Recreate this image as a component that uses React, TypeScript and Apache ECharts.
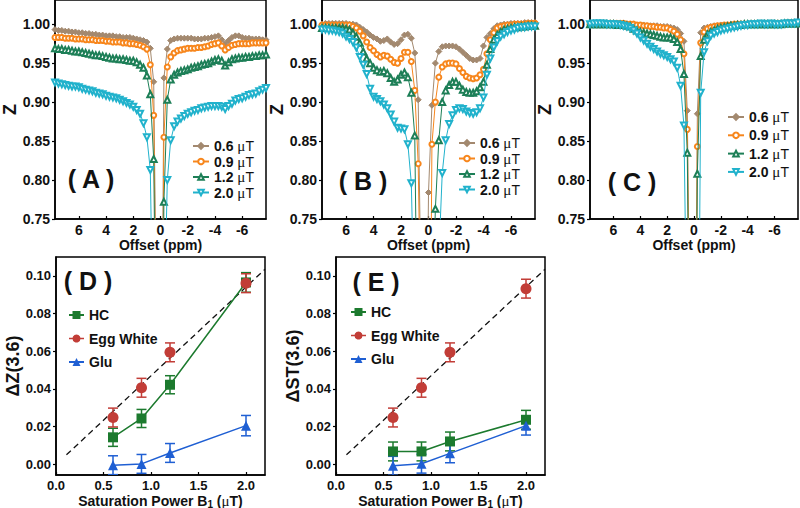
import React, { useEffect, useRef } from "react";
import * as echarts from "echarts";

// ---------- Data ----------
const offsets = [
  7.75, 7.5, 7.25, 7.0, 6.75, 6.5, 6.25, 6.0,
  5.75, 5.5, 5.25, 5.0, 4.75, 4.5, 4.25, 4.0,
  3.75, 3.5, 3.25, 3.0, 2.75, 2.5, 2.25, 2.0,
  1.75, 1.5, 1.25, 1.0, 0.75, 0.5, 0.25, 0.0,
  -0.25, -0.5, -0.75, -1.0, -1.25, -1.5, -1.75, -2.0,
  -2.25, -2.5, -2.75, -3.0, -3.25, -3.5, -3.75, -4.0,
  -4.25, -4.5, -4.75, -5.0, -5.25, -5.5, -5.75, -6.0,
  -6.25, -6.5, -6.75, -7.0, -7.25, -7.5, -7.75,
];

const powerNames = ["0.6 μT", "0.9 μT", "1.2 μT", "2.0 μT"];

// Panel A
const zA06 = [
  0.993, 0.992, 0.992, 0.991, 0.991, 0.990, 0.990, 0.989,
  0.989, 0.988, 0.988, 0.987, 0.987, 0.986, 0.986, 0.985,
  0.985, 0.985, 0.984, 0.984, 0.983, 0.983, 0.983, 0.982,
  0.981, 0.980, 0.979, 0.977, 0.969, 0.926, 0.55, 0.30,
  0.931, 0.968, 0.979, 0.981, 0.982, 0.982, 0.982, 0.982,
  0.982, 0.981, 0.981, 0.981, 0.982, 0.982, 0.983, 0.984,
  0.985, 0.980, 0.975, 0.979, 0.983, 0.985, 0.985, 0.983,
  0.982, 0.982, 0.981, 0.981, 0.981, 0.980, 0.980,
];
const zA09 = [
  0.983, 0.983, 0.983, 0.982, 0.982, 0.982, 0.981, 0.981,
  0.981, 0.980, 0.980, 0.980, 0.979, 0.979, 0.979, 0.978,
  0.978, 0.977, 0.977, 0.977, 0.976, 0.976, 0.975, 0.975,
  0.974, 0.973, 0.971, 0.968, 0.948, 0.883, 0.50, 0.25,
  0.855, 0.945, 0.958, 0.963, 0.966, 0.967, 0.968, 0.969,
  0.969, 0.969, 0.970, 0.970, 0.971, 0.972, 0.974, 0.975,
  0.976, 0.972, 0.967, 0.970, 0.973, 0.974, 0.975, 0.975,
  0.975, 0.975, 0.976, 0.976, 0.976, 0.976, 0.976,
];
const zA12 = [
  0.969, 0.968, 0.968, 0.967, 0.967, 0.966, 0.965, 0.965,
  0.964, 0.963, 0.962, 0.961, 0.960, 0.960, 0.959, 0.958,
  0.957, 0.956, 0.956, 0.955, 0.955, 0.954, 0.953, 0.953,
  0.951, 0.948, 0.944, 0.934, 0.910, 0.827, 0.45, 0.20,
  0.772, 0.903, 0.929, 0.935, 0.938, 0.940, 0.941, 0.942,
  0.944, 0.945, 0.946, 0.948, 0.949, 0.950, 0.952, 0.954,
  0.955, 0.953, 0.947, 0.951, 0.955, 0.956, 0.957, 0.957,
  0.958, 0.958, 0.959, 0.959, 0.960, 0.960, 0.961,
];
const zA20 = [
  0.925, 0.924, 0.923, 0.922, 0.921, 0.920, 0.920, 0.919,
  0.917, 0.916, 0.915, 0.914, 0.912, 0.911, 0.910, 0.908,
  0.907, 0.906, 0.905, 0.903, 0.901, 0.899, 0.897, 0.894,
  0.890, 0.885, 0.873, 0.855, 0.813, 0.55, 0.30, 0.15,
  0.60, 0.800, 0.851, 0.869, 0.875, 0.879, 0.882, 0.885,
  0.887, 0.889, 0.890, 0.892, 0.893, 0.894, 0.895, 0.895,
  0.895, 0.894, 0.891, 0.895, 0.898, 0.902, 0.904, 0.905,
  0.907, 0.909, 0.910, 0.911, 0.914, 0.916, 0.918,
];

// Panel B
const zB06 = [
  1.000, 1.001, 1.001, 1.001, 1.001, 1.001, 1.001, 1.001,
  1.000, 1.000, 0.999, 0.996, 0.993, 0.990, 0.986, 0.983,
  0.981, 0.978, 0.979, 0.981, 0.977, 0.974, 0.975, 0.980,
  0.986, 0.987, 0.982, 0.963, 0.903, 0.60, 0.35, 0.784,
  0.896, 0.950, 0.965, 0.971, 0.972, 0.972, 0.972, 0.971,
  0.968, 0.964, 0.960, 0.956, 0.954, 0.954, 0.956, 0.972,
  0.983, 0.988, 0.994, 0.998, 0.999, 1.000, 1.000, 1.001,
  1.001, 1.001, 1.001, 1.002, 1.002, 1.002, 1.002,
];
const zB09 = [
  0.999, 0.999, 0.999, 0.999, 0.999, 0.999, 0.999, 0.999,
  0.999, 0.997, 0.995, 0.991, 0.985, 0.977, 0.970, 0.966,
  0.961, 0.958, 0.960, 0.959, 0.955, 0.951, 0.950, 0.956,
  0.964, 0.964, 0.952, 0.915, 0.821, 0.55, 0.30, 0.25,
  0.846, 0.900, 0.932, 0.945, 0.949, 0.950, 0.950, 0.949,
  0.943, 0.938, 0.933, 0.931, 0.930, 0.931, 0.935, 0.942,
  0.962, 0.980, 0.989, 0.995, 0.997, 0.998, 0.999, 0.999,
  1.000, 1.000, 1.000, 1.000, 1.001, 1.001, 1.001,
];
const zB12 = [
  0.995, 0.995, 0.995, 0.995, 0.995, 0.995, 0.995, 0.994,
  0.993, 0.989, 0.984, 0.976, 0.965, 0.956, 0.950, 0.944,
  0.941, 0.939, 0.940, 0.937, 0.931, 0.926, 0.929, 0.935,
  0.938, 0.932, 0.912, 0.857, 0.50, 0.30, 0.20, 0.15,
  0.60, 0.763, 0.851, 0.900, 0.915, 0.922, 0.926, 0.926,
  0.921, 0.916, 0.913, 0.912, 0.912, 0.914, 0.919, 0.926,
  0.948, 0.968, 0.980, 0.986, 0.990, 0.993, 0.994, 0.995,
  0.996, 0.996, 0.997, 0.997, 0.998, 0.998, 0.998,
];
const zB20 = [
  0.993, 0.993, 0.992, 0.992, 0.991, 0.990, 0.988, 0.984,
  0.981, 0.977, 0.970, 0.958, 0.948, 0.936, 0.917, 0.907,
  0.904, 0.901, 0.897, 0.892, 0.884, 0.875, 0.867, 0.866,
  0.865, 0.846, 0.796, 0.60, 0.40, 0.25, 0.15, 0.10,
  0.20, 0.45, 0.70, 0.809, 0.851, 0.872, 0.883, 0.890,
  0.892, 0.891, 0.888, 0.886, 0.885, 0.887, 0.892, 0.906,
  0.935, 0.956, 0.970, 0.978, 0.984, 0.987, 0.990, 0.992,
  0.993, 0.995, 0.996, 0.996, 0.997, 0.997, 0.997,
];

// Panel C
const zC06 = [
  1.000, 1.000, 1.001, 1.000, 1.001, 1.001, 1.000, 1.001,
  1.001, 1.000, 1.000, 1.000, 1.000, 0.999, 0.999, 0.999,
  0.999, 0.998, 0.998, 0.998, 0.998, 0.997, 0.997, 0.997,
  0.996, 0.995, 0.993, 0.988, 0.978, 0.889, 0.50, 0.30,
  0.885, 0.989, 0.995, 0.996, 0.997, 0.998, 0.998, 0.999,
  0.999, 0.999, 1.000, 0.999, 1.000, 1.000, 0.999, 1.000,
  1.000, 0.999, 1.001, 1.000, 1.000, 1.001, 1.000, 1.001,
  1.000, 1.001, 1.001, 1.000, 1.001, 1.001, 1.001,
];
const zC09 = [
  1.000, 1.000, 1.000, 1.001, 1.001, 1.001, 1.001, 1.001,
  1.001, 1.001, 1.001, 1.000, 1.000, 1.000, 0.999, 0.999,
  0.998, 0.998, 0.997, 0.997, 0.996, 0.996, 0.995, 0.995,
  0.993, 0.991, 0.987, 0.980, 0.962, 0.865, 0.45, 0.25,
  0.843, 0.976, 0.990, 0.994, 0.996, 0.997, 0.998, 0.998,
  0.999, 0.999, 0.999, 1.000, 1.000, 1.000, 1.000, 1.000,
  1.000, 1.000, 1.000, 1.000, 1.001, 1.001, 1.001, 1.001,
  1.001, 1.001, 1.001, 1.002, 1.002, 1.002, 1.002,
];
const zC12 = [
  1.000, 1.000, 1.000, 1.000, 1.000, 1.000, 1.000, 1.000,
  0.999, 0.999, 0.999, 0.998, 0.997, 0.994, 0.992, 0.990,
  0.989, 0.988, 0.987, 0.986, 0.985, 0.984, 0.983, 0.983,
  0.983, 0.981, 0.977, 0.968, 0.936, 0.835, 0.40, 0.20,
  0.808, 0.959, 0.980, 0.987, 0.990, 0.992, 0.994, 0.995,
  0.996, 0.997, 0.998, 0.998, 0.999, 0.999, 1.000, 1.000,
  1.000, 1.000, 1.000, 1.000, 1.000, 1.000, 1.000, 1.000,
  1.000, 1.000, 1.001, 1.001, 1.001, 1.001, 1.001,
];
const zC20 = [
  1.000, 1.001, 1.001, 1.001, 1.001, 1.000, 1.000, 1.000,
  1.000, 0.999, 0.998, 0.997, 0.995, 0.992, 0.988, 0.983,
  0.979, 0.975, 0.971, 0.968, 0.965, 0.962, 0.960, 0.958,
  0.955, 0.952, 0.944, 0.921, 0.870, 0.55, 0.30, 0.15,
  0.35, 0.912, 0.964, 0.978, 0.985, 0.988, 0.990, 0.992,
  0.993, 0.994, 0.995, 0.996, 0.997, 0.998, 0.999, 0.999,
  1.000, 1.000, 1.000, 1.001, 1.000, 1.000, 1.001, 1.000,
  1.000, 1.000, 1.001, 1.001, 1.001, 1.001, 1.002,
];

const offsetTicks = [6, 4, 2, 0, -2, -4, -6];
const zTicks = [0.75, 0.8, 0.85, 0.9, 0.95, 1.0];

// Panels D and E
const b1 = [0.6, 0.9, 1.2, 2.0];
const dzHC = [0.0143, 0.0243, 0.0422, 0.0965];
const dzEgg = [0.0248, 0.0406, 0.0594, 0.0961];
const dzGlu = [-0.0005, 0.0002, 0.0060, 0.0205];
const dzHCErr = [0.0048, 0.0048, 0.0048, 0.0052];
const dzEggErr = [0.005, 0.005, 0.005, 0.005];
const dzGluErr = [0.005, 0.005, 0.005, 0.0054];

const dstHC = [0.0068, 0.0068, 0.0121, 0.0236];
const dstEgg = [0.0248, 0.0406, 0.0594, 0.0932];
const dstGlu = [-0.0008, 0.0003, 0.0058, 0.0205];
const dstHCErr = [0.005, 0.005, 0.005, 0.005];
const dstEggErr = [0.005, 0.005, 0.005, 0.005];
const dstGluErr = [0.005, 0.005, 0.005, 0.005];

const b1Ticks = [0, 0.5, 1.0, 1.5, 2.0];
const deltaTicks = [0, 0.02, 0.04, 0.06, 0.08, 0.1];
const refLineX = [0.11, 2.2];
const refLineY = [0.005, 0.1035];

// ---------- Styles ----------
const FONT = "'Liberation Sans', Arial, Helvetica, sans-serif";
const SERIF = "'Liberation Serif', 'DejaVu Serif', serif";
const powerColors = ["#a3896f", "#f7861c", "#1d7f57", "#21b2cc"];
const powerSymbols = ["diamond", "emptyCircle", "emptyTriangle", "emptyTriangle"];
const powerRot = [0, 0, 0, 180];
const powerSize = [6, 5, 6, 6];
const cHC = "#1c7a2e";
const cEgg = "#c23d37";
const cGlu = "#1f5fd3";

const grids = [
  { left: 55, top: 0, width: 211, height: 219 },
  { left: 322, top: 0, width: 213, height: 219 },
  { left: 590, top: 0, width: 208, height: 219 },
  { left: 56, top: 257, width: 209, height: 218 },
  { left: 336, top: 257, width: 209, height: 218 },
];

const topLabelStyle = { fontFamily: FONT, fontWeight: "bold", fontSize: 14, color: "#111" };
const botLabelStyle = { fontFamily: FONT, fontWeight: "bold", fontSize: 13, color: "#111" };

export default function App() {
  const ref = useRef<HTMLDivElement>(null);

  useEffect(() => {
    if (!ref.current) return;
    const chart = echarts.init(ref.current, null, { renderer: "svg" });

    const topData = [
      [zA06, zA09, zA12, zA20],
      [zB06, zB09, zB12, zB20],
      [zC06, zC09, zC12, zC20],
    ];
    const zNameGap = [35, 32, 36];

    const xAxes: any[] = [];
    const yAxes: any[] = [];
    const series: any[] = [];

    for (let p = 0; p < 3; p++) {
      xAxes.push({
        gridIndex: p,
        type: "value",
        min: -7.75,
        max: 7.75,
        inverse: true,
        name: "Offset (ppm)",
        nameLocation: "middle",
        nameGap: 18,
        nameTextStyle: { fontFamily: FONT, fontWeight: "bold", fontSize: 14, color: "#111", verticalAlign: "top" },
        axisLine: { show: true, onZero: false, lineStyle: { color: "#000", width: 1.5 } },
        axisTick: { show: true, inside: true, length: 3, customValues: offsetTicks, lineStyle: { color: "#000", width: 1.2 } },
        axisLabel: { ...topLabelStyle, margin: 4, customValues: offsetTicks, formatter: (v: number) => String(v) },
        splitLine: { show: false },
      });
      yAxes.push({
        gridIndex: p,
        type: "value",
        min: 0.75,
        max: 1.031,
        name: "Z",
        nameLocation: "middle",
        nameGap: zNameGap[p],
        nameTextStyle: { fontFamily: FONT, fontWeight: "bold", fontSize: 18, color: "#111" },
        axisLine: { show: true, onZero: false, lineStyle: { color: "#000", width: 1.5 } },
        axisTick: { show: true, inside: false, length: 3, customValues: zTicks, lineStyle: { color: "#000", width: 1.2 } },
        axisLabel: { ...topLabelStyle, margin: 5, customValues: zTicks, formatter: (v: number) => v.toFixed(2) },
        splitLine: { show: false },
      });
      for (let k = 0; k < 4; k++) {
        const vals = topData[p][k];
        series.push({
          type: "line",
          name: powerNames[k],
          xAxisIndex: p,
          yAxisIndex: p,
          data: offsets.map((o, i) => [o, vals[i]]),
          symbol: powerSymbols[k],
          symbolRotate: powerRot[k],
          symbolSize: powerSize[k],
          showAllSymbol: true,
          clip: true,
          color: powerColors[k],
          itemStyle: { color: powerColors[k], borderColor: powerColors[k], borderWidth: 1 },
          lineStyle: { color: powerColors[k], width: 1 },
          z: 2 + k,
        });
      }
    }

    const richName = {
      t: { fontFamily: FONT, fontWeight: "bold", fontSize: 14, color: "#111" },
      s: { fontFamily: FONT, fontWeight: "bold", fontSize: 10, color: "#111", verticalAlign: "bottom", padding: [6, 0, 0, 0] },
      m: { fontFamily: SERIF, fontWeight: "normal", fontSize: 15, color: "#111" },
    };
    for (let q = 0; q < 2; q++) {
      const gi = 3 + q;
      xAxes.push({
        gridIndex: gi,
        type: "value",
        min: 0,
        max: 2.2,
        name: "{t|Saturation Power B}{s|1}{t| (}{m|μ}{t|T)}",
        nameLocation: "middle",
        nameGap: 18,
        nameTextStyle: { verticalAlign: "top", rich: richName },
        axisLine: { show: true, onZero: false, lineStyle: { color: "#000", width: 1.5 } },
        axisTick: { show: true, inside: true, length: 3, customValues: b1Ticks, lineStyle: { color: "#000", width: 1.2 } },
        axisLabel: { ...botLabelStyle, margin: 4, customValues: b1Ticks, formatter: (v: number) => v.toFixed(1) },
        splitLine: { show: false },
      });
      yAxes.push({
        gridIndex: gi,
        type: "value",
        min: -0.0057,
        max: 0.11,
        name: q === 0 ? "ΔZ(3.6)" : "ΔST(3.6)",
        nameLocation: "middle",
        nameGap: 33,
        nameTextStyle: { fontFamily: FONT, fontWeight: "bold", fontSize: 18, color: "#111" },
        axisLine: { show: true, onZero: false, lineStyle: { color: "#000", width: 1.5 } },
        axisTick: { show: true, inside: false, length: 3, customValues: deltaTicks, lineStyle: { color: "#000", width: 1.2 } },
        axisLabel: { ...botLabelStyle, margin: 5, customValues: deltaTicks, formatter: (v: number) => v.toFixed(2) },
        splitLine: { show: false },
      });
    }

    const errRender = (color: string) => (params: any, api: any) => {
      const x = api.value(0);
      const lo = api.value(1);
      const hi = api.value(2);
      const t = api.coord([x, hi]);
      const b = api.coord([x, lo]);
      const w = 5;
      const style = { stroke: color, lineWidth: 1.5, fill: "none" };
      return {
        type: "group",
        children: [
          { type: "line", shape: { x1: t[0], y1: t[1], x2: b[0], y2: b[1] }, style },
          { type: "line", shape: { x1: t[0] - w, y1: t[1], x2: t[0] + w, y2: t[1] }, style },
          { type: "line", shape: { x1: b[0] - w, y1: b[1], x2: b[0] + w, y2: b[1] }, style },
        ],
      };
    };

    const groups = [
      { gi: 3, hc: dzHC, hcE: dzHCErr, egg: dzEgg, eggE: dzEggErr, glu: dzGlu, gluE: dzGluErr },
      { gi: 4, hc: dstHC, hcE: dstHCErr, egg: dstEgg, eggE: dstEggErr, glu: dstGlu, gluE: dstGluErr },
    ];
    groups.forEach((g, q) => {
      series.push({
        type: "line",
        name: "ref" + q,
        xAxisIndex: g.gi,
        yAxisIndex: g.gi,
        data: refLineX.map((x, i) => [x, refLineY[i]]),
        symbol: "none",
        lineStyle: { color: "#111", width: 1.3, type: [6, 4] },
        clip: true,
        z: 1,
      });
      const sets = [
        { name: "HC", v: g.hc, e: g.hcE, c: cHC, sym: "rect", size: 10, line: 1 },
        { name: "Egg White", v: g.egg, e: g.eggE, c: cEgg, sym: "circle", size: 11, line: 0 },
        { name: "Glu", v: g.glu, e: g.gluE, c: cGlu, sym: "triangle", size: 10, line: 1 },
      ];
      sets.forEach((s) => {
        series.push({
          type: "custom",
          name: s.name + "_err" + q,
          xAxisIndex: g.gi,
          yAxisIndex: g.gi,
          renderItem: errRender(s.c),
          data: b1.map((x, i) => [x, s.v[i] - s.e[i], s.v[i] + s.e[i]]),
          encode: { x: 0, y: [1, 2] },
          clip: true,
          z: 2,
        });
        series.push({
          type: "line",
          name: s.name,
          xAxisIndex: g.gi,
          yAxisIndex: g.gi,
          data: b1.map((x, i) => [x, s.v[i]]),
          symbol: s.sym,
          symbolSize: s.size,
          color: s.c,
          itemStyle: { color: s.c },
          lineStyle: { color: s.c, width: 1.5, opacity: s.line },
          clip: true,
          z: 3,
        });
      });
    });

    const topRich = {
      n: { fontFamily: FONT, fontWeight: "bold", fontSize: 14, color: "#111", lineHeight: 15 },
      m: { fontFamily: SERIF, fontWeight: "normal", fontSize: 15, color: "#111", lineHeight: 15 },
      t: { fontFamily: FONT, fontWeight: "normal", fontSize: 14, color: "#111", lineHeight: 15 },
    };
    const topLegend = (left: number, top: number, gap: number) => ({
      show: true,
      orient: "vertical",
      left,
      top,
      padding: 0,
      itemGap: gap,
      itemWidth: 16,
      itemHeight: 7,
      data: powerNames,
      selectedMode: false,
      formatter: (name: string) => {
        const num = name.split(" ")[0];
        return "{n|" + num + " }{m|μ}{t|T}";
      },
      textStyle: { rich: topRich, lineHeight: 15 },
    });
    const bottomLegend = (left: number, top: number) => ({
      show: true,
      orient: "vertical",
      left,
      top,
      padding: 0,
      itemGap: 7.5,
      itemWidth: 15,
      itemHeight: 10,
      selectedMode: false,
      data: [
        { name: "HC" },
        { name: "Egg White", lineStyle: { opacity: 1, width: 1.5, color: cEgg } },
        { name: "Glu" },
      ],
      textStyle: { fontFamily: FONT, fontWeight: "bold", fontSize: 14, color: "#111", lineHeight: 16 },
    });

    const panelLabel = (txt: string, x: number, y: number) => ({
      type: "text",
      x,
      y,
      z: 100,
      style: {
        text: txt,
        fill: "#111",
        fontFamily: FONT,
        fontWeight: "bold",
        fontSize: 25,
        align: "center",
        verticalAlign: "middle",
      },
    });

    chart.setOption({
      animation: false,
      backgroundColor: "#fff",
      grid: grids.map((g) => ({
        ...g,
        show: true,
        borderColor: "#000",
        borderWidth: 1.5,
        backgroundColor: "transparent",
        containLabel: false,
        outerBoundsMode: "none",
      })),
      xAxis: xAxes,
      yAxis: yAxes,
      legend: [
        topLegend(192, 138.5, 0.5),
        topLegend(458, 135.5, 0.5),
        topLegend(727, 109.5, 3.3),
        bottomLegend(68, 307),
        bottomLegend(350, 304),
      ],
      graphic: [
        panelLabel("( A )", 91, 179),
        panelLabel("( B )", 363, 181),
        panelLabel("( C )", 632, 182),
        panelLabel("( D )", 88, 281),
        panelLabel("( E )", 376, 282),
      ],
      series,
    });

    return () => chart.dispose();
  }, []);

  return (
    <div
      ref={ref}
      style={{ position: "fixed", left: 0, top: 0, width: 800, height: 508, background: "#fff" }}
    />
  );
}
